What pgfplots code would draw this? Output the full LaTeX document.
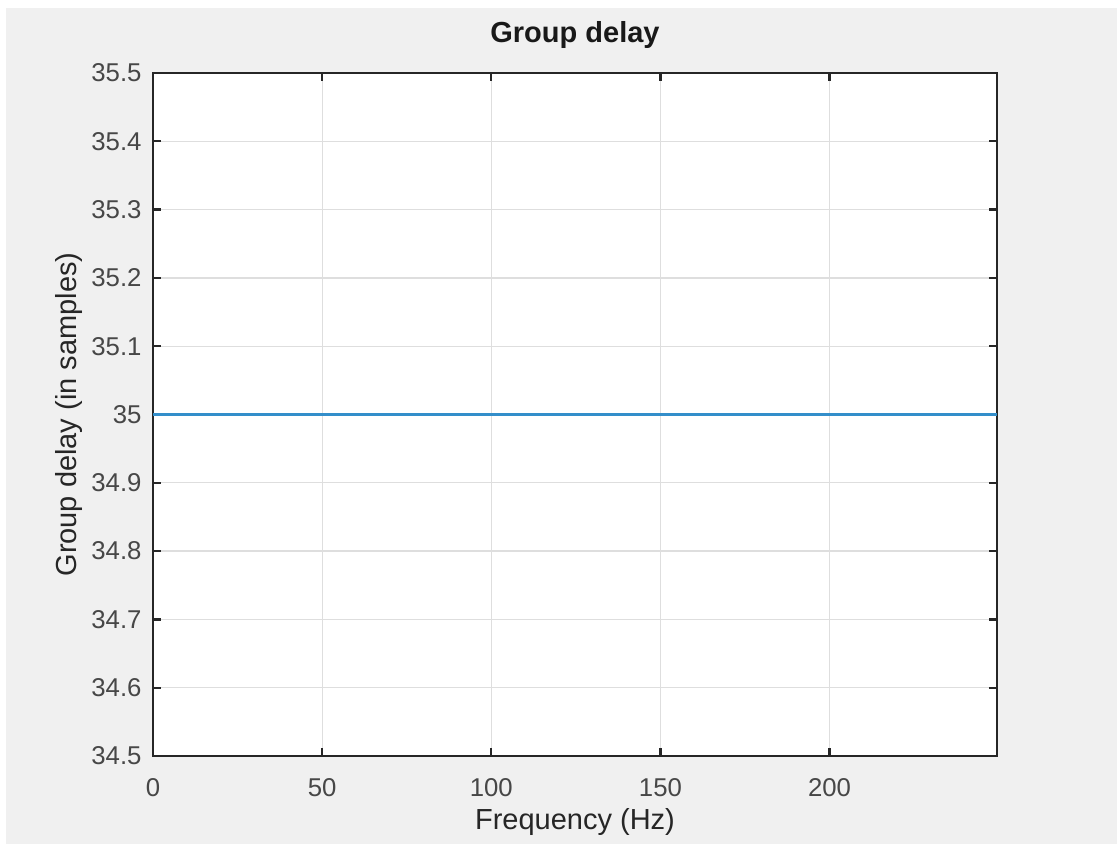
\documentclass[border=0pt]{standalone}
\usepackage{pgfplots}
\pgfplotsset{compat=1.18}
\usepackage{fontspec}
\setmainfont{Liberation Sans}
\definecolor{figbg}{HTML}{F0F0F0}
\definecolor{axcol}{HTML}{262626}
\definecolor{gridcol}{HTML}{DEDEDE}
\definecolor{mblue}{HTML}{0072BD}
\begin{document}
\begin{tikzpicture}
\fill[white] (0pt,0pt) rectangle (446.8pt,337.6pt);
\fill[figbg] (2.4pt,0pt) rectangle (446.8pt,334.4pt);
\begin{axis}[
  at={(61.2pt,35.2pt)}, anchor=south west,
  scale only axis,
  width=337.6pt, height=273.2pt,
  xmin=0, xmax=249.5,
  ymin=34.5, ymax=35.5,
  xtick={0,50,100,150,200},
  ytick={34.5,34.6,34.7,34.8,34.9,35,35.1,35.2,35.3,35.4,35.5},
  yticklabels={34.5,34.6,34.7,34.8,34.9,35,35.1,35.2,35.3,35.4,35.5},
  /pgf/number format/assume math mode=true,
  tick align=inside,
  major tick length=3.2pt,
  xtick pos=both, ytick pos=both,
  grid=major,
  major grid style={line width=0.5pt, draw=gridcol},
  axis line style={line width=0.9pt, draw=axcol},
  every tick/.style={line width=0.9pt, draw=axcol},
  axis background/.style={fill=white},
  tick label style={font=\fontsize{10.3}{12}\selectfont, text=axcol!85!white, inner sep=0pt},
  xticklabel style={anchor=north, yshift=-8.8pt},
  yticklabel style={anchor=east, xshift=-4.4pt},
  title={Group delay},
  title style={font=\fontsize{11.6}{14}\selectfont\bfseries, text=black!90, inner sep=0pt, at={(axis description cs:0.5,1.022)}, anchor=base},
  xlabel={Frequency (Hz)},
  xlabel style={font=\fontsize{11.6}{14}\selectfont, text=axcol, inner sep=0pt, at={(axis description cs:0.5,-0.1083)}, anchor=base},
  ylabel={Group delay (in samples)},
  ylabel style={font=\fontsize{11.6}{14}\selectfont, text=axcol, inner sep=0pt, at={(axis description cs:-0.0912,0.5)}, anchor=base, rotate=0},
]
\addplot[mblue!80!white, line width=1.5pt] coordinates {
 (0,35) (50,35) (100,35) (150,35) (200,35) (249.5,35)
};
\end{axis}
\end{tikzpicture}
\end{document}
